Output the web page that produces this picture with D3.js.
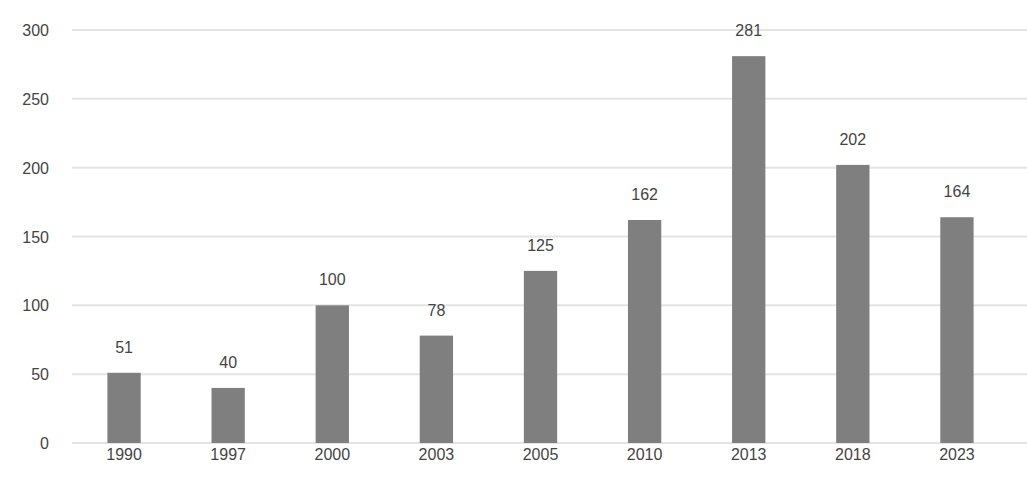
<!DOCTYPE html>
<html lang="en">
<head>
<meta charset="utf-8">
<title>Bar chart</title>
<script src="https://d3js.org/d3.v7.min.js"></script>
<style>
  body { margin: 0; background: #fff; }
  text { font-family: "Liberation Sans", Arial, sans-serif; fill: #444; }
</style>
</head>
<body>
<div id="chart"></div>
<script>
// data
var years = ["1990", "1997", "2000", "2003", "2005", "2010", "2013", "2018", "2023"];
var values = [51, 40, 100, 78, 125, 162, 281, 202, 164];
var yTicks = [0, 50, 100, 150, 200, 250, 300];

var W = 1027, H = 504;
var margin = {top: 30, right: 18, bottom: 61, left: 72};

var svg = d3.select("#chart").append("svg")
    .attr("width", W)
    .attr("height", H);

var x = d3.scaleBand()
    .domain(years)
    .range([margin.left, W - margin.right])
    .paddingInner(0.68)
    .paddingOuter(0.34);

var y = d3.scaleLinear()
    .domain([0, 300])
    .range([H - margin.bottom, margin.top]);

// grid lines
svg.append("g")
  .selectAll("line")
  .data(yTicks)
  .enter().append("line")
    .attr("x1", margin.left)
    .attr("x2", W)
    .attr("y1", function(d) { return y(d); })
    .attr("y2", function(d) { return y(d); })
    .attr("stroke", "#e4e4e4")
    .attr("stroke-width", 2);

// y axis labels
var yAxis = svg.append("g")
    .attr("transform", "translate(" + (margin.left - 20) + ",0)")
    .call(d3.axisLeft(y).tickValues(yTicks).tickSize(0));
yAxis.select(".domain").remove();
yAxis.selectAll("text")
    .style("font-size", "16px")
    .attr("dy", "0.35em");

// x axis labels
var xAxis = svg.append("g")
    .attr("transform", "translate(0," + (H - margin.bottom + 3) + ")")
    .call(d3.axisBottom(x).tickSize(0));
xAxis.select(".domain").remove();
xAxis.selectAll("text")
    .style("font-size", "16px");

// bars
svg.append("g")
  .selectAll("rect")
  .data(values)
  .enter().append("rect")
    .attr("x", function(d, i) { return x(years[i]); })
    .attr("y", function(d) { return y(d); })
    .attr("width", x.bandwidth())
    .attr("height", function(d) { return y(0) - y(d); })
    .attr("fill", "#7f7f7f");

// value labels
svg.append("g")
  .selectAll("text")
  .data(values)
  .enter().append("text")
    .attr("x", function(d, i) { return x(years[i]) + x.bandwidth() / 2; })
    .attr("y", function(d) { return y(d) - 20; })
    .attr("text-anchor", "middle")
    .style("font-size", "16px")
    .text(function(d) { return d; });
</script>
</body>
</html>
